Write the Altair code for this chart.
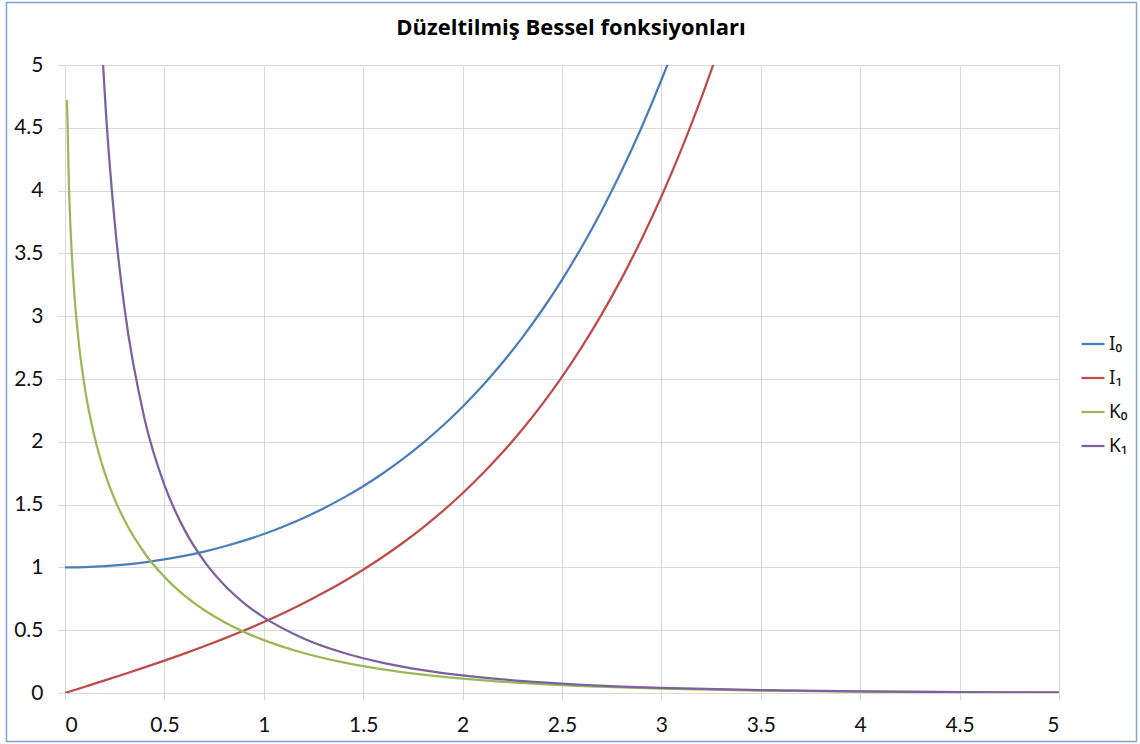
import altair as alt
import pandas as pd

# Modified Bessel functions of the first kind, I0 and I1
x_i = [0.0, 0.1, 0.2, 0.3, 0.4, 0.5, 0.6, 0.7, 0.8, 0.9, 1.0, 1.1, 1.2, 1.3, 1.4, 1.5, 1.6,
       1.7, 1.8, 1.9, 2.0, 2.1, 2.2, 2.3, 2.4, 2.5, 2.6, 2.7, 2.8, 2.9, 3.0, 3.1, 3.2, 3.3]
i0 = [1.0000, 1.0025, 1.0100, 1.0226, 1.0404, 1.0635, 1.0920, 1.1263, 1.1665, 1.2130,
      1.2661, 1.3262, 1.3937, 1.4693, 1.5534, 1.6467, 1.7500, 1.8640, 1.9896, 2.1277,
      2.2796, 2.4463, 2.6291, 2.8296, 3.0493, 3.2898, 3.5533, 3.8417, 4.1573, 4.5027,
      4.8808, 5.2945, 5.7472, 6.2426]
i1 = [0.0000, 0.0501, 0.1005, 0.1517, 0.2040, 0.2579, 0.3137, 0.3719, 0.4329, 0.4971,
      0.5652, 0.6375, 0.7147, 0.7973, 0.8861, 0.9817, 1.0848, 1.1963, 1.3172, 1.4482,
      1.5906, 1.7455, 1.9141, 2.0978, 2.2981, 2.5167, 2.7554, 3.0161, 3.3011, 3.6126,
      3.9534, 4.3262, 4.7343, 5.1810]

# Modified Bessel functions of the second kind, K0 and K1
x_k = [0.01, 0.02, 0.03, 0.05, 0.07, 0.1, 0.15, 0.2, 0.25, 0.3, 0.4, 0.5, 0.6, 0.7, 0.8,
       0.9, 1.0, 1.2, 1.4, 1.6, 1.8, 2.0, 2.2, 2.4, 2.6, 2.8, 3.0, 3.5, 4.0, 4.5, 5.0]
k0 = [4.7212, 4.0285, 3.6235, 3.1142, 2.7798, 2.4271, 2.0300, 1.7527, 1.5415, 1.3725,
      1.1145, 0.9244, 0.7775, 0.6605, 0.5653, 0.4867, 0.4210, 0.3185, 0.2437, 0.1880,
      0.1459, 0.1139, 0.0893, 0.0702, 0.0554, 0.0438, 0.0347, 0.0196, 0.0112, 0.0064,
      0.0037]
k1 = [99.97, 49.95, 33.27, 19.91, 14.17, 9.8538, 6.4775, 4.7760, 3.7470, 3.0560,
      2.1844, 1.6564, 1.3028, 1.0503, 0.8618, 0.7165, 0.6019, 0.4346, 0.3208, 0.2406,
      0.1826, 0.1399, 0.1079, 0.0837, 0.0653, 0.0511, 0.0402, 0.0222, 0.0125, 0.0071,
      0.0040]

series_names = ["I\u2080", "I\u2081", "K\u2080", "K\u2081"]
series_colors = ["#4A7EBB", "#BE4B48", "#98B954", "#7D60A0"]
tick_values = [0, 0.5, 1, 1.5, 2, 2.5, 3, 3.5, 4, 4.5, 5]
title_text = "Düzeltilmiş Bessel fonksiyonları"

rows = []
for name, xs, ys in zip(series_names, [x_i, x_i, x_k, x_k], [i0, i1, k0, k1]):
    for xv, yv in zip(xs, ys):
        rows.append({"x": xv, "y": yv, "series": name})
df = pd.DataFrame(rows)

FONT = "Lato"
GRID = "#D9D9D9"

axis_common = dict(
    values=tick_values, format="~g", title=None, domain=False,
    grid=True, gridColor=GRID, gridWidth=1,
    ticks=True, tickColor=GRID, tickSize=7,
    labelFont=FONT, labelFontSize=21, labelColor="#111111",
)

lines = alt.Chart(df).mark_line(
    clip=True, strokeWidth=2.25, interpolate="monotone"
).encode(
    x=alt.X("x:Q", scale=alt.Scale(domain=[0, 5], nice=False),
            axis=alt.Axis(labelPadding=14, **axis_common)),
    y=alt.Y("y:Q", scale=alt.Scale(domain=[0, 5], nice=False),
            axis=alt.Axis(labelPadding=15, **axis_common)),
    color=alt.Color(
        "series:N",
        scale=alt.Scale(domain=series_names, range=series_colors),
        legend=alt.Legend(
            title=None, orient="none", legendX=1015, legendY=266,
            symbolType="stroke", symbolSize=529, symbolStrokeWidth=2.25,
            labelFont="Noto Sans", labelFontSize=19, labelColor="#111111",
            rowPadding=11, padding=0, labelOffset=3,
        ),
    ),
)

# Outer chart-area border
frame = alt.Chart(alt.Data(values=[{}])).mark_rect(
    filled=False, stroke="#7FA3D6", strokeWidth=1.5
).encode(
    x=alt.value(-58.5), x2=alt.value(1071.5),
    y=alt.value(-62.5), y2=alt.value(676.5),
)

# Chart heading, centred over the whole chart area
heading = alt.Chart(alt.Data(values=[{"t": title_text}])).mark_text(
    font="Open Sans", fontSize=22, fontWeight="bold", color="#000000",
    align="center", baseline="alphabetic",
).encode(
    text="t:N", x=alt.value(506), y=alt.value(-30),
)

chart = alt.layer(lines, frame, heading).properties(
    width=994, height=628,
    autosize="none",
    padding={"left": 65, "top": 65, "right": 81, "bottom": 51},
).configure_view(strokeWidth=0).configure(background="white")

chart.save("out.html", embed_options={"renderer": "svg", "actions": False})
